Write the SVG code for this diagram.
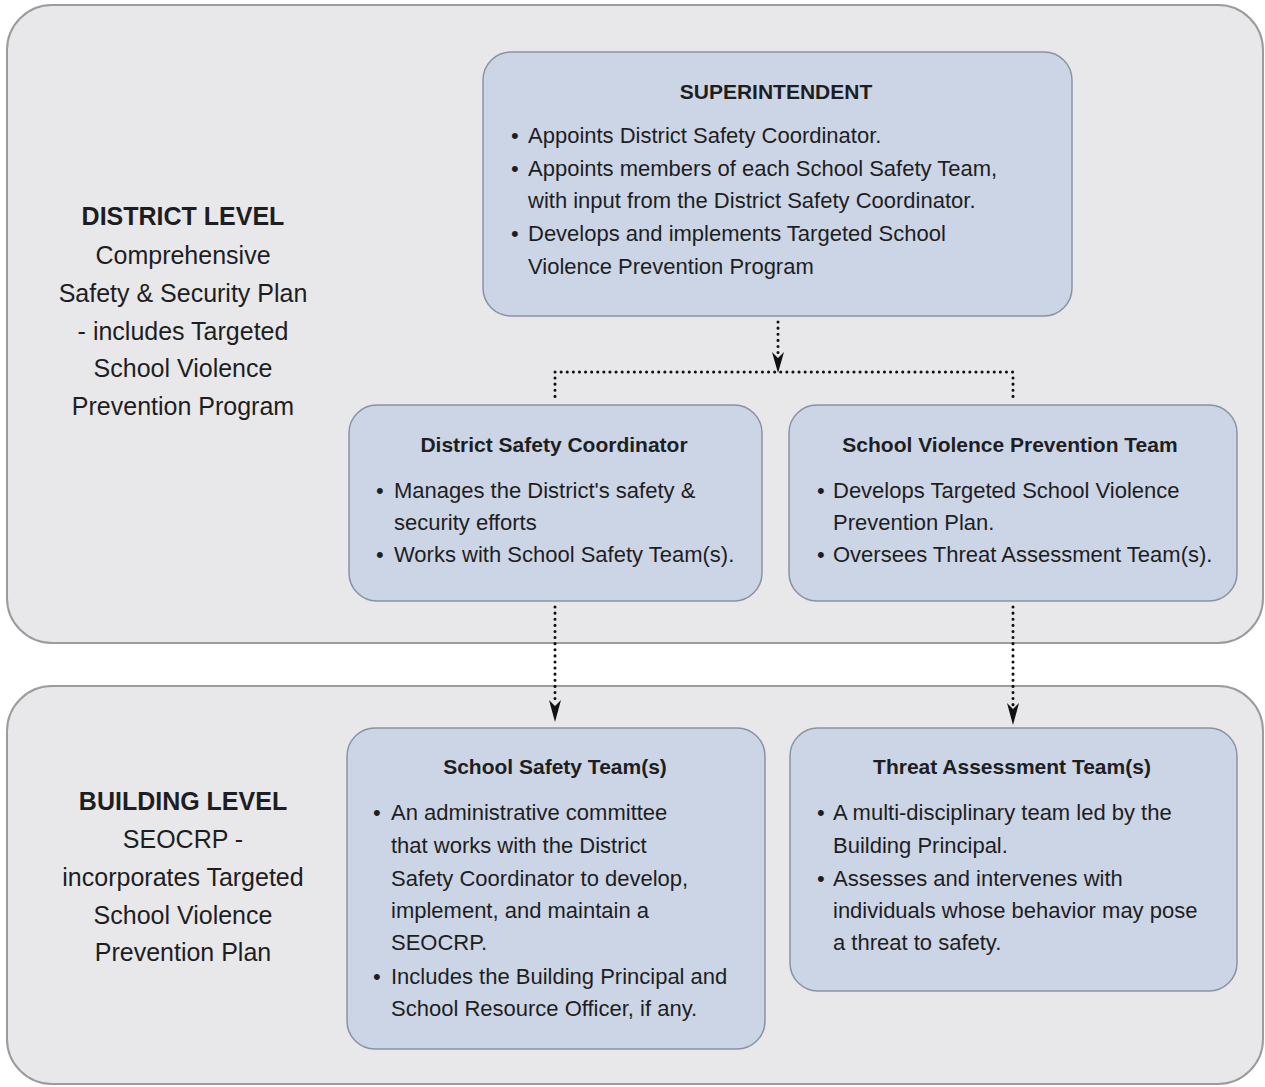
<svg xmlns="http://www.w3.org/2000/svg" width="1265" height="1087" viewBox="0 0 1265 1087">
<defs>
<style>
.panel{fill:#e8e8ea;stroke:#9c9c9e;stroke-width:2}
.box{fill:#ccd5e6;stroke:#8a93a3;stroke-width:1.5}
.t{font-family:"Liberation Sans",Arial,sans-serif;fill:#1e1e22}
.title{font-size:21px;font-weight:bold;text-anchor:middle}
.body{font-size:22px}
.lvl{font-size:25px;text-anchor:middle}
.lvlb{font-weight:bold}
.dot{stroke:#111;stroke-width:3;stroke-dasharray:0.1 6;stroke-linecap:round;fill:none}
</style>
</defs>
<rect width="1265" height="1087" fill="#ffffff"/>
<g id="district-panel">
<rect class="panel" x="7" y="5" width="1256" height="638" rx="45" ry="45"/>
<text class="t lvl" x="183"><tspan class="lvlb" x="183" y="225">DISTRICT LEVEL</tspan><tspan x="183" y="264">Comprehensive</tspan><tspan x="183" y="302">Safety &amp; Security Plan</tspan><tspan x="183" y="340">- includes Targeted</tspan><tspan x="183" y="377">School Violence</tspan><tspan x="183" y="415">Prevention Program</tspan></text>
</g>
<g id="building-panel">
<rect class="panel" x="7" y="686" width="1256" height="398" rx="45" ry="45"/>
<text class="t lvl" x="183"><tspan class="lvlb" x="183" y="810">BUILDING LEVEL</tspan><tspan x="183" y="848">SEOCRP -</tspan><tspan x="183" y="886">incorporates Targeted</tspan><tspan x="183" y="924">School Violence</tspan><tspan x="183" y="961">Prevention Plan</tspan></text>
</g>
<g id="superintendent">
<rect class="box" x="483" y="52" width="589" height="264" rx="28" ry="28"/>
<text class="t title" x="776" y="99">SUPERINTENDENT</text>
<text class="t body"><tspan x="511" y="143">•</tspan><tspan x="528" y="143">Appoints District Safety Coordinator.</tspan><tspan x="511" y="176">•</tspan><tspan x="528" y="176">Appoints members of each School Safety Team,</tspan><tspan x="528" y="208">with input from the District Safety Coordinator.</tspan><tspan x="511" y="241">•</tspan><tspan x="528" y="241">Develops and implements Targeted School</tspan><tspan x="528" y="274">Violence Prevention Program</tspan></text>
</g>
<g id="district-safety-coordinator">
<rect class="box" x="349" y="405" width="413" height="196" rx="28" ry="28"/>
<text class="t title" x="554" y="452">District Safety Coordinator</text>
<text class="t body"><tspan x="376" y="498">•</tspan><tspan x="394" y="498">Manages the District's safety &amp;</tspan><tspan x="394" y="530">security efforts</tspan><tspan x="376" y="562">•</tspan><tspan x="394" y="562">Works with School Safety Team(s).</tspan></text>
</g>
<g id="school-violence-prevention-team">
<rect class="box" x="789" y="405" width="448" height="196" rx="28" ry="28"/>
<text class="t title" x="1010" y="452">School Violence Prevention Team</text>
<text class="t body"><tspan x="817" y="498">•</tspan><tspan x="833" y="498">Develops Targeted School Violence</tspan><tspan x="833" y="530">Prevention Plan.</tspan><tspan x="817" y="562">•</tspan><tspan x="833" y="562">Oversees Threat Assessment Team(s).</tspan></text>
</g>
<g id="school-safety-teams">
<rect class="box" x="347" y="728" width="418" height="321" rx="28" ry="28"/>
<text class="t title" x="555" y="774">School Safety Team(s)</text>
<text class="t body"><tspan x="373" y="820">•</tspan><tspan x="391" y="820">An administrative committee</tspan><tspan x="391" y="853">that  works with the District</tspan><tspan x="391" y="886">Safety Coordinator to develop,</tspan><tspan x="391" y="918">implement, and maintain a</tspan><tspan x="391" y="950">SEOCRP.</tspan><tspan x="373" y="984">•</tspan><tspan x="391" y="984">Includes the Building Principal and</tspan><tspan x="391" y="1016">School Resource Officer, if any.</tspan></text>
</g>
<g id="threat-assessment-teams">
<rect class="box" x="790" y="728" width="447" height="263" rx="28" ry="28"/>
<text class="t title" x="1012" y="774">Threat Assessment Team(s)</text>
<text class="t body"><tspan x="817" y="820">•</tspan><tspan x="833" y="820">A multi-disciplinary team led by the</tspan><tspan x="833" y="853">Building Principal.</tspan><tspan x="817" y="886">•</tspan><tspan x="833" y="886">Assesses and intervenes with</tspan><tspan x="833" y="918">individuals whose behavior may pose</tspan><tspan x="833" y="950">a threat to safety.</tspan></text>
</g>
<g id="connectors">
<path class="dot" d="M778,322 L778,354"/>
<path d="M772,352 L778,358 L784,352 L778,373 Z" fill="#111"/>
<path class="dot" d="M555,372 L1013,372"/>
<path class="dot" d="M555,378 L555,398"/>
<path class="dot" d="M1013,378 L1013,398"/>
<path class="dot" d="M555,607 L555,702"/>
<path d="M549,700 L555,706 L561,700 L555,722 Z" fill="#111"/>
<path class="dot" d="M1013,607 L1013,705"/>
<path d="M1007,703 L1013,709 L1019,703 L1013,725 Z" fill="#111"/>
</g>
</svg>
